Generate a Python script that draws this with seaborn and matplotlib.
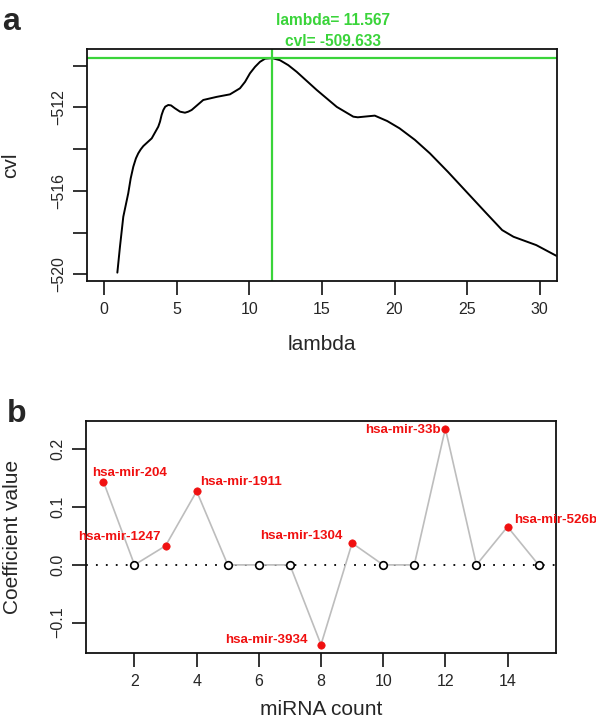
import matplotlib
matplotlib.use("Agg")
import matplotlib.pyplot as plt
import numpy as np
import pandas as pd
import seaborn as sns

# panel a: cross-validated likelihood vs lambda
lam = [0.90, 1.08, 1.31, 1.65, 1.82, 2.00, 2.18, 2.34, 2.51, 2.69, 3.27, 3.72,
       3.84, 3.95, 4.07, 4.20, 4.41, 4.60, 4.87, 5.22, 5.56, 5.79, 6.02, 6.82,
       7.75, 8.66, 9.35, 9.70, 10.04, 10.39, 10.73, 11.08, 11.42, 11.567, 12.10,
       12.68, 13.26, 14.64, 16.02, 17.16, 17.47, 18.64, 19.50, 20.35, 21.40,
       22.44, 23.70, 25.06, 26.30, 27.42, 28.20, 29.77, 31.20]
cvl = [-519.92, -518.68, -517.24, -516.12, -515.40, -514.84, -514.44, -514.20,
       -514.01, -513.85, -513.48, -512.92, -512.68, -512.36, -512.12, -511.96,
       -511.88, -511.90, -512.04, -512.20, -512.25, -512.20, -512.12, -511.64,
       -511.49, -511.37, -511.08, -510.77, -510.36, -510.05, -509.81, -509.66,
       -509.64, -509.633, -509.73, -509.97, -510.29, -511.16, -511.97, -512.44,
       -512.47, -512.39, -512.65, -513.00, -513.55, -514.20, -515.10, -516.12,
       -517.05, -517.88, -518.20, -518.60, -519.13]
best_lambda = 11.567
best_cvl = -509.633

# panel b: coefficients of selected miRNAs
mirna_count = list(range(1, 16))
coef = [0.144, 0.0, 0.033, 0.1275, 0.0, 0.0, 0.0, -0.138, 0.0377, 0.0, 0.0,
        0.236, 0.0, 0.066, 0.0]
mirna_names = ["hsa-mir-204", "", "hsa-mir-1247", "hsa-mir-1911", "", "", "",
               "hsa-mir-3934", "hsa-mir-1304", "", "", "hsa-mir-33b", "",
               "hsa-mir-526b", ""]

# label placement (dx, dy, ha) relative to each labelled point
label_offsets = {
    "hsa-mir-204": (-0.37, 0.0155, "left"),
    "hsa-mir-1247": (-0.17, 0.0147, "right"),
    "hsa-mir-1911": (0.11, 0.0155, "left"),
    "hsa-mir-3934": (-0.43, 0.008, "right"),
    "hsa-mir-1304": (-0.30, 0.0123, "right"),
    "hsa-mir-33b": (-0.14, -0.0026, "right"),
    "hsa-mir-526b": (0.20, 0.0117, "left"),
}

sns.set_style("ticks")
plt.rcParams["font.family"] = ["Liberation Sans", "DejaVu Sans"]
GREEN = "#3ad43a"
RED = "#f01010"


def _style_axes(ax):
    for sp in ax.spines.values():
        sp.set_visible(True)
        sp.set_linewidth(1.3)
        sp.set_color("#111111")
    ax.tick_params(length=10, width=1.2, labelsize=11.5, pad=5, color="#111111")
    ax.tick_params(axis="y", labelrotation=90)
    for lab in ax.get_yticklabels():
        lab.set_va("center")


fig = plt.figure(figsize=(5.96, 7.21), dpi=100)
ax_a = fig.add_axes([0.146, 0.6103, 0.7886, 0.3213])
ax_b = fig.add_axes([0.1443, 0.0947, 0.7886, 0.3214])

# ---- panel a ----
df_a = pd.DataFrame({"lambda": lam, "cvl": cvl})
sns.lineplot(data=df_a, x="lambda", y="cvl", color="black", lw=1.4, sort=False, ax=ax_a)
ax_a.axvline(best_lambda, color=GREEN, lw=1.6)
ax_a.axhline(best_cvl, color=GREEN, lw=1.6)
ax_a.set_xlim(-1.19, 31.2)
ax_a.set_ylim(-520.32, -509.21)
ax_a.set_xticks(np.arange(0, 31, 5))
ax_a.set_yticks(np.arange(-520, -509, 2))
ax_a.set_yticklabels(["\u2212520", "", "\u2212516", "", "\u2212512", ""])
_style_axes(ax_a)
ax_a.set_xlabel("lambda", fontsize=15, va="center")
ax_a.set_ylabel("cvl", fontsize=15, va="center")
ax_a.xaxis.set_label_coords(0.5, -0.276)
ax_a.yaxis.set_label_coords(-0.162, 0.5)
fig.text(0.5587, 1 - 25 / 721, f"lambda= {best_lambda}", color=GREEN, fontsize=11.2,
         fontweight="bold", ha="center", va="baseline")
fig.text(0.5587, 1 - 45.7 / 721, f"cvl= {best_cvl}", color=GREEN, fontsize=11.2,
         fontweight="bold", ha="center", va="baseline")
fig.text(0.003, 1 - 29.5 / 721, "a", fontsize=23, fontweight="bold", va="baseline")

# ---- panel b ----
df_b = pd.DataFrame({"count": mirna_count, "coef": coef, "name": mirna_names})
ax_b.axhline(0, color="black", lw=1.3, ls=(0, (1, 4.5)))
sns.lineplot(data=df_b, x="count", y="coef", color="#bdbdbd", lw=1.2, sort=False, ax=ax_b)
zero = df_b[df_b["coef"] == 0]
nonzero = df_b[df_b["coef"] != 0]
sns.scatterplot(data=zero, x="count", y="coef", s=30, facecolor="white",
                edgecolor="black", linewidth=1.2, ax=ax_b, zorder=3)
sns.scatterplot(data=nonzero, x="count", y="coef", s=28, color=RED,
                edgecolor=RED, linewidth=0.5, ax=ax_b, zorder=3)
for _, row in nonzero.iterrows():
    dx, dy, ha = label_offsets[row["name"]]
    ax_b.text(row["count"] + dx, row["coef"] + dy, row["name"], color=RED,
              fontsize=9.6, fontweight="bold", ha=ha, va="center", clip_on=False)
ax_b.set_xlim(0.44, 15.56)
ax_b.set_ylim(-0.152, 0.249)
ax_b.set_xticks(np.arange(2, 15, 2))
ax_b.set_yticks([-0.1, 0.0, 0.1, 0.2])
ax_b.set_yticklabels(["\u22120.1", "0.0", "0.1", "0.2"])
_style_axes(ax_b)
ax_b.set_xlabel("miRNA count", fontsize=15, va="center")
ax_b.set_ylabel("Coefficient value", fontsize=15, va="center")
ax_b.xaxis.set_label_coords(0.5, -0.245)
ax_b.yaxis.set_label_coords(-0.157, 0.5)
fig.text(0.011, 1 - 421.5 / 721, "b", fontsize=23, fontweight="bold", va="baseline")

fig.savefig("out.png", dpi=100)
